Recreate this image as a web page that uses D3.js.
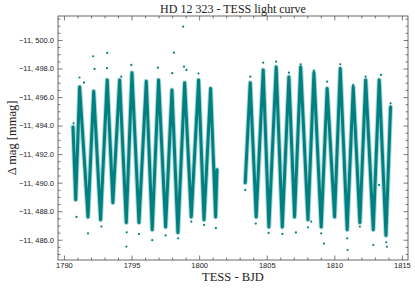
<!DOCTYPE html>
<meta charset="utf-8">
<html lang="en">
<head>
<title>HD 12 323 - TESS light curve</title>
<style>
  body { margin: 0; background: #fff; }
  svg { display: block; font-family: "Liberation Serif", "DejaVu Serif", serif; }
  .tick text { fill: #222; font-size: 7.5px; }
  .tick line { stroke: #444; stroke-width: 0.7; }
</style>
</head>
<body>
<div id="chart"></div>
<script src="https://d3js.org/d3.v7.min.js"></script>
<script>
// light curve: turning points of the pulsation (BJD, mmag)
// first orbit
const seg1Times = [1790.67, 1790.87, 1791.16, 1791.78, 1792.20, 1792.71, 1793.20, 1793.62,
  1794.12, 1794.61, 1795.03, 1795.55, 1796.09, 1796.53, 1797.00, 1797.52, 1797.99, 1798.43,
  1798.93, 1799.42, 1799.96, 1800.36, 1800.85, 1801.22, 1801.32];
const seg1Mags = [-11493.9, -11488.8, -11496.7, -11487.6, -11496.4, -11487.4, -11497.2, -11488.6,
  -11497.2, -11487.2, -11497.7, -11487.2, -11497.1, -11486.7, -11497.2, -11486.9, -11496.5, -11486.5,
  -11497.0, -11487.6, -11497.2, -11487.4, -11496.6, -11487.6, -11490.9];
// second orbit
const seg2Times = [1803.41, 1803.78, 1804.22, 1804.74, 1805.16, 1805.70, 1806.15, 1806.64,
  1807.06, 1807.51, 1808.05, 1808.49, 1809.03, 1809.47, 1810.02, 1810.44, 1810.95, 1811.40,
  1811.89, 1812.32, 1812.88, 1813.32, 1813.82, 1814.16];
const seg2Mags = [-11490.0, -11497.0, -11487.6, -11497.9, -11486.9, -11498.1, -11486.9, -11497.4,
  -11487.6, -11498.1, -11487.4, -11497.7, -11486.9, -11496.6, -11487.6, -11498.0, -11486.7, -11496.7,
  -11487.2, -11497.2, -11486.7, -11497.2, -11486.3, -11495.3];
// isolated points outside the dense band
const outTimes = [1792.16, 1793.20, 1792.26, 1793.18, 1791.15, 1791.48, 1794.98, 1798.14, 1796.95,
  1794.24, 1798.82, 1798.88, 1799.06, 1799.95, 1798.01, 1803.78, 1804.74, 1805.70, 1806.64,
  1807.51, 1808.49, 1809.47, 1810.44, 1811.40, 1812.32, 1813.45, 1814.16, 1790.72,
  1790.92, 1791.78, 1792.77, 1794.62, 1794.64, 1795.55, 1796.53, 1797.52, 1798.45, 1799.42,
  1800.37, 1801.24, 1804.19, 1805.14, 1806.16, 1807.16, 1808.05, 1808.29, 1809.03, 1809.23,
  1810.95, 1810.98, 1811.89, 1812.88, 1813.84, 1813.89, 1813.31, 1803.41];
const outMags = [-11498.86, -11499.09, -11497.97, -11498.02, -11497.37, -11497.01, -11498.25, -11499.11, -11498.06,
  -11497.43, -11500.93, -11498.13, -11497.90, -11497.65, -11497.67, -11497.43, -11498.41, -11498.48, -11497.71,
  -11498.30, -11497.85, -11497.08, -11498.30, -11496.85, -11497.43, -11497.55, -11495.56, -11494.16,
  -11487.60, -11486.45, -11486.92, -11485.52, -11486.52, -11486.40, -11485.97, -11486.30, -11486.10, -11487.27,
  -11487.04, -11486.81, -11487.13, -11486.48, -11486.41, -11486.51, -11486.87, -11487.27, -11486.45, -11485.73,
  -11486.10, -11485.28, -11486.92, -11485.63, -11485.82, -11485.51, -11489.84, -11489.49];

const xTicks = [1790, 1795, 1800, 1805, 1810, 1815];
const yTicks = [-11500, -11498, -11496, -11494, -11492, -11490, -11488, -11486];

const W = 415, H = 288;
const margin = {top: 16, right: 7, bottom: 28, left: 58};
const color = "#008080";

const x = d3.scaleLinear().domain([1789.56, 1815.45]).range([margin.left, W - margin.right]);
const y = d3.scaleLinear().domain([-11501.68, -11484.58]).range([margin.top, H - margin.bottom]);

const svg = d3.select("#chart").append("svg").attr("width", W).attr("height", H);

svg.append("clipPath").attr("id", "clip").append("rect")
  .attr("x", margin.left).attr("y", margin.top)
  .attr("width", W - margin.left - margin.right).attr("height", H - margin.top - margin.bottom);

const plot = svg.append("g").attr("clip-path", "url(#clip)");

const line = d3.line()
  .x(d => x(d[0]))
  .y(d => y(d[1]));

[[seg1Times, seg1Mags], [seg2Times, seg2Mags]].forEach(([ts, ms]) => {
  const pts = ts.map((t, i) => [t, ms[i]]);
  // soft fringe = scatter of the 2-min points, then the dense core
  plot.append("path").datum(pts).attr("d", line)
    .attr("fill", "none").attr("stroke", color).attr("stroke-opacity", 0.3)
    .attr("stroke-width", 5).attr("stroke-linejoin", "round").attr("stroke-linecap", "round");
  plot.append("path").datum(pts).attr("d", line)
    .attr("fill", "none").attr("stroke", color)
    .attr("stroke-width", 3).attr("stroke-linejoin", "round").attr("stroke-linecap", "round");
});

plot.selectAll("circle.out")
  .data(outTimes.map((t, i) => [t, outMags[i]]))
  .enter().append("circle")
  .attr("class", "out")
  .attr("cx", d => x(d[0]))
  .attr("cy", d => y(d[1]))
  .attr("r", 1.1)
  .attr("fill", color);

// axes, ticks pointing inwards on all four sides
const fmtY = v => d3.format(",.1f")(v).replace(",", ", ");
const xMinor = d3.range(1790, 1816, 1).filter(v => !xTicks.includes(v));
const yMinor = d3.range(-11501.5, -11484.5, 0.5).filter(v => !yTicks.includes(v));

function addAxis(axis, tx, ty) {
  const g = svg.append("g").attr("transform", `translate(${tx},${ty})`).call(axis);
  g.select(".domain").remove();
  return g;
}
const bottom = H - margin.bottom, right = W - margin.right;

addAxis(d3.axisBottom(x).tickValues(xTicks).tickSize(-4.5).tickPadding(3).tickFormat(d3.format("d")), 0, bottom);
addAxis(d3.axisBottom(x).tickValues(xMinor).tickSize(-2.5).tickFormat(""), 0, bottom);
addAxis(d3.axisTop(x).tickValues(xTicks).tickSize(-4.5).tickFormat(""), 0, margin.top);
addAxis(d3.axisTop(x).tickValues(xMinor).tickSize(-2.5).tickFormat(""), 0, margin.top);
addAxis(d3.axisLeft(y).tickValues(yTicks).tickSize(-4.5).tickPadding(4).tickFormat(fmtY), margin.left, 0);
addAxis(d3.axisLeft(y).tickValues(yMinor).tickSize(-2.5).tickFormat(""), margin.left, 0);
addAxis(d3.axisRight(y).tickValues(yTicks).tickSize(-4.5).tickFormat(""), right, 0);
addAxis(d3.axisRight(y).tickValues(yMinor).tickSize(-2.5).tickFormat(""), right, 0);

svg.append("rect")
  .attr("x", margin.left).attr("y", margin.top)
  .attr("width", right - margin.left).attr("height", bottom - margin.top)
  .attr("fill", "none").attr("stroke", "#444").attr("stroke-width", 0.8);

svg.append("text")
  .attr("x", (margin.left + right) / 2).attr("y", 13)
  .attr("text-anchor", "middle").attr("font-size", 12).attr("fill", "#222")
  .text("HD 12 323 - TESS light curve");

svg.append("text")
  .attr("x", (margin.left + right) / 2).attr("y", 281)
  .attr("text-anchor", "middle").attr("font-size", 12.5).attr("fill", "#222")
  .text("TESS - BJD");

svg.append("text")
  .attr("transform", `translate(16,${(margin.top + bottom) / 2}) rotate(-90)`)
  .attr("text-anchor", "middle").attr("font-size", 12.5).attr("fill", "#222")
  .text("Δ mag [mmag]");
</script>
</body>
</html>
